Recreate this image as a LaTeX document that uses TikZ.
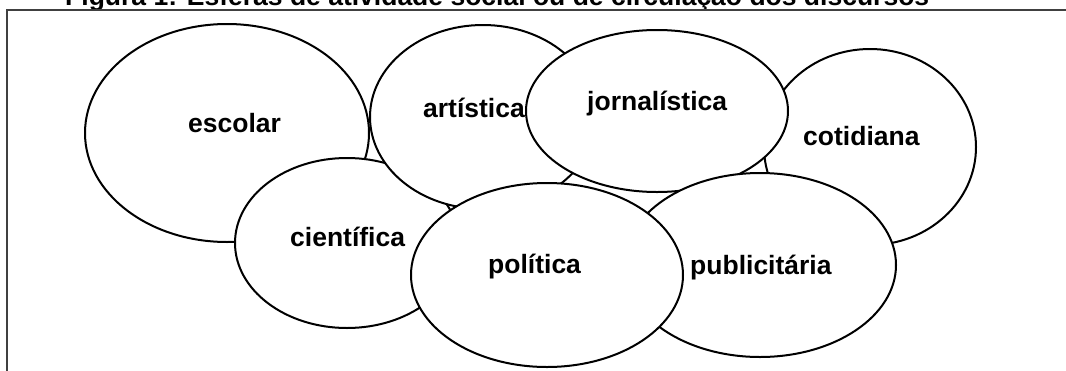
\documentclass[tikz,border=0pt]{standalone}
\usepackage{fontspec}
\setmainfont{Liberation Sans}
\usetikzlibrary{shapes.geometric}
\begin{document}
\begin{tikzpicture}[x=1pt,y=-1pt,
  sphere/.style={ellipse, draw=black, line width=2pt, fill=white, inner sep=0pt, outer sep=0pt},
  lbl/.style={font=\fontsize{26.5}{30}\selectfont\bfseries, inner sep=0pt, anchor=base west},
  frameline/.style={line width=2pt, draw=black!75}]
\useasboundingbox (0,0) rectangle (1066,370);
\begin{scope}
\clip (0,0) rectangle (1066,370);
\node[lbl] (title) at (65,5) {Figura 1: Esferas de atividade social ou de circulação dos discursos};
\end{scope}
\coordinate (fbl) at (7,372);
\coordinate (ftl) at (7,10);
\coordinate (ftr) at (1068,10);
\draw[frameline] (fbl) -- (ftl) -- (ftr);
% spheres, bottom to top
\node[sphere, minimum width=284pt, minimum height=218pt] (escolar) at (227,133) {};
\node[sphere, minimum width=212pt, minimum height=196pt] (cotidiana) at (870,147) {};
\node[sphere, minimum width=224pt, minimum height=170pt] (cientifica) at (347,243) {};
\node[sphere, minimum width=226pt, minimum height=184pt] (artistica) at (483,117) {};
\node[sphere, minimum width=262pt, minimum height=162pt] (jornalistica) at (657,111) {};
\node[sphere, minimum width=272pt, minimum height=184pt] (publicitaria) at (760,265) {};
\node[sphere, minimum width=272pt, minimum height=184pt] (politica) at (547,275) {};
% labels
\node[lbl] (lescolar) at (188,132) {escolar};
\node[lbl] (lartistica) at (423,117) {artística};
\node[lbl] (ljornalistica) at (587,110) {jornalística};
\node[lbl] (lcotidiana) at (803,145) {cotidiana};
\node[lbl] (lcientifica) at (290,246) {científica};
\node[lbl] (lpolitica) at (488,273) {política};
\node[lbl] (lpublicitaria) at (690,274) {publicitária};
\end{tikzpicture}
\end{document}
